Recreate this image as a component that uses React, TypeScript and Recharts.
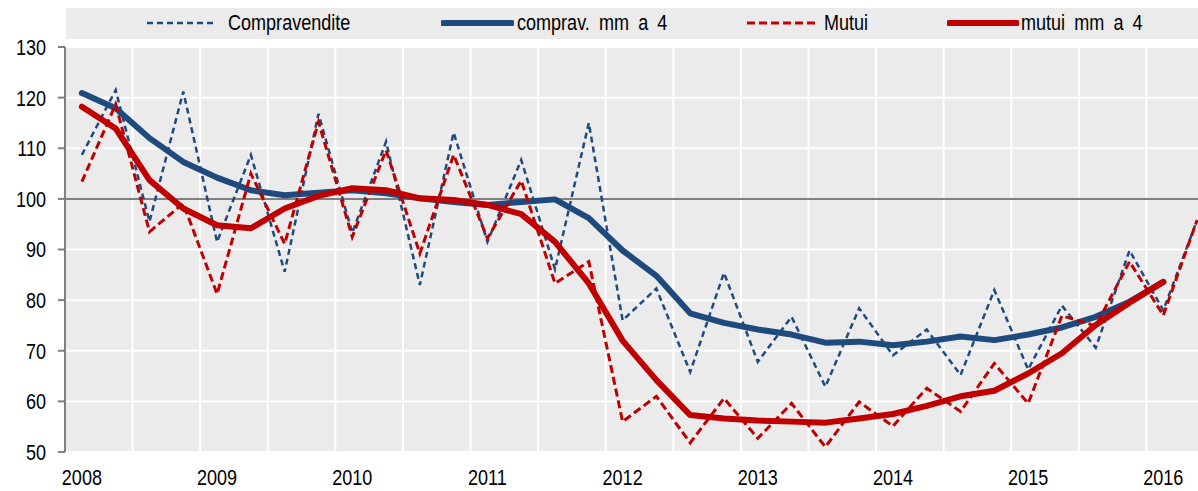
import React from 'react';
import { LineChart, Line, XAxis, YAxis, CartesianGrid, ReferenceLine } from 'recharts';

const quarters = [
  '2008-1', '2008-2', '2008-3', '2008-4',
  '2009-1', '2009-2', '2009-3', '2009-4',
  '2010-1', '2010-2', '2010-3', '2010-4',
  '2011-1', '2011-2', '2011-3', '2011-4',
  '2012-1', '2012-2', '2012-3', '2012-4',
  '2013-1', '2013-2', '2013-3', '2013-4',
  '2014-1', '2014-2', '2014-3', '2014-4',
  '2015-1', '2015-2', '2015-3', '2015-4',
  '2016-1', '2016-2',
];

const compravendite = [108.7, 121.5, 95.5, 121.2, 91.5, 108.7, 85.6, 116.8, 93.3, 111.3, 83.0, 113.1, 91.5, 107.7, 86.1, 115.0, 76.0, 82.3, 65.8, 85.4, 67.8, 76.7, 62.9, 78.4, 69.1, 74.2, 65.2, 82.0, 66.3, 78.9, 70.6, 89.8, 78.0, 95.8];
const compravMM = [120.9, 117.9, 112.0, 107.3, 104.2, 101.7, 100.7, 101.2, 101.7, 101.1, 100.1, 99.4, 98.8, 99.4, 99.9, 96.2, 89.8, 84.8, 77.4, 75.5, 74.2, 73.2, 71.6, 71.8, 71.1, 71.8, 72.8, 72.1, 73.2, 74.6, 76.7, 79.7, 83.6, null];
const mutui = [103.4, 118.7, 93.5, 99.1, 81.2, 105.0, 91.1, 115.2, 92.5, 109.6, 89.2, 108.7, 92.2, 103.6, 83.3, 87.6, 56.0, 61.0, 51.8, 60.6, 52.7, 59.6, 51.0, 59.9, 55.1, 62.6, 58.0, 67.5, 59.6, 76.9, 74.9, 87.6, 77.0, 95.8];
const mutuiMM = [118.2, 113.9, 103.7, 98.1, 94.8, 94.2, 98.1, 100.6, 102.1, 101.7, 100.1, 99.8, 98.8, 97.0, 91.5, 83.3, 72.0, 64.2, 57.3, 56.6, 56.2, 56.0, 55.8, 56.6, 57.5, 59.1, 61.0, 62.1, 65.5, 69.5, 75.1, 79.5, 83.6, null];

const yTicks = [50, 60, 70, 80, 90, 100, 110, 120, 130];

const seriesLabels = ['Compravendite', 'comprav. mm a 4', 'Mutui', 'mutui mm a 4'];

const data = quarters.map((q, i) => ({
  q,
  compravendite: compravendite[i],
  compravMM: compravMM[i],
  mutui: mutui[i],
  mutuiMM: mutuiMM[i],
}));

const BLUE = '#1F4A7E';
const RED = '#C00000';
const FONT = '"Liberation Sans", Arial, sans-serif';
const NARROW = 0.82;
const BLUE_DASH = '6 4';
const RED_DASH = '8 4';

const LEGEND_LEFT = 66;
const legendItems = [
  { label: seriesLabels[0], color: BLUE, width: 2.5, dash: BLUE_DASH, x1: 147, x2: 214, textLeft: 228 },
  { label: seriesLabels[1], color: BLUE, width: 6, dash: undefined, x1: 443, x2: 512, textLeft: 517 },
  { label: seriesLabels[2], color: RED, width: 3, dash: RED_DASH, x1: 747, x2: 816, textLeft: 824 },
  { label: seriesLabels[3], color: RED, width: 6, dash: undefined, x1: 949, x2: 1017, textLeft: 1021 },
];

function LegendBox() {
  return (
    <div
      style={{
        position: 'absolute',
        left: LEGEND_LEFT,
        top: 8,
        width: 1198 - LEGEND_LEFT,
        height: 31,
        background: '#EBEBEB',
        fontFamily: FONT,
        fontSize: 22,
        color: '#000',
      }}
    >
      {legendItems.map((it) => (
        <React.Fragment key={it.label}>
          <svg
            width={it.x2 - it.x1 + 4}
            height={10}
            style={{ position: 'absolute', left: it.x1 - LEGEND_LEFT - 2, top: 10 }}
          >
            <line
              x1={2}
              y1={5}
              x2={it.x2 - it.x1 + 2}
              y2={5}
              stroke={it.color}
              strokeWidth={it.width}
              strokeDasharray={it.dash}
              strokeLinecap={it.dash ? 'butt' : 'round'}
            />
          </svg>
          <span
            style={{
              position: 'absolute',
              left: it.textLeft - LEGEND_LEFT,
              top: 2,
              lineHeight: '26px',
              whiteSpace: 'nowrap',
              wordSpacing: '5px',
              transform: `scaleX(${NARROW})`,
              transformOrigin: 'left center',
            }}
          >
            {it.label}
          </span>
        </React.Fragment>
      ))}
    </div>
  );
}

function YTick(props: any) {
  const { x, y, payload } = props;
  return (
    <text
      transform={`translate(${x},${y}) scale(${NARROW},1)`}
      textAnchor="end"
      dy="0.36em"
      fill="#000"
      fontSize={22}
      fontFamily={FONT}
    >
      {payload.value}
    </text>
  );
}

function XTick(props: any) {
  const { x, y, payload } = props;
  return (
    <text
      transform={`translate(${x},${y}) scale(${NARROW},1)`}
      textAnchor="middle"
      dy="0.71em"
      fill="#000"
      fontSize={22}
      fontFamily={FONT}
    >
      {String(payload.value).slice(0, 4)}
    </text>
  );
}

export default function App() {
  const vGen = (props: any) => {
    const off = props.offset;
    const band = off.width / quarters.length;
    const res: number[] = [];
    for (let k = 2; k <= quarters.length; k += 2) res.push(off.left + k * band);
    return res;
  };
  const band = (1214 - 65) / quarters.length;
  return (
    <div
      style={{
        position: 'fixed',
        left: 0,
        top: 0,
        width: 1198,
        height: 491,
        overflow: 'hidden',
        background: '#fff',
      }}
    >
      <LegendBox />
      <LineChart
        width={1214}
        height={491}
        data={data}
        margin={{ top: 47, right: 0, bottom: 0, left: 0 }}
        style={{ position: 'absolute', left: 0, top: 0 }}
      >
        <CartesianGrid
          fill="#EBEBEB"
          stroke="#FFFFFF"
          strokeWidth={2}
          verticalCoordinatesGenerator={vGen}
        />
        <XAxis
          dataKey="q"
          scale="point"
          padding={{ left: band / 2, right: band / 2 }}
          interval={3}
          axisLine={false}
          tickLine={false}
          tickSize={0}
          tickMargin={17}
          height={39}
          tick={<XTick />}
        />
        <YAxis
          domain={[50, 130]}
          ticks={yTicks}
          interval={0}
          width={65}
          axisLine={{ stroke: '#808080', strokeWidth: 2 }}
          tickLine={{ stroke: '#808080', strokeWidth: 2 }}
          tickSize={7}
          tickMargin={12}
          tick={<YTick />}
        />
        <ReferenceLine y={100} stroke="#808080" strokeWidth={2} />
        <Line
          dataKey="compravendite"
          stroke={BLUE}
          strokeWidth={2.5}
          strokeDasharray={BLUE_DASH}
          dot={false}
          isAnimationActive={false}
        />
        <Line
          dataKey="compravMM"
          stroke={BLUE}
          strokeWidth={6}
          dot={false}
          strokeLinecap="round"
          strokeLinejoin="round"
          isAnimationActive={false}
        />
        <Line
          dataKey="mutui"
          stroke={RED}
          strokeWidth={3}
          strokeDasharray={RED_DASH}
          dot={false}
          isAnimationActive={false}
        />
        <Line
          dataKey="mutuiMM"
          stroke={RED}
          strokeWidth={6}
          dot={false}
          strokeLinecap="round"
          strokeLinejoin="round"
          isAnimationActive={false}
        />
      </LineChart>
    </div>
  );
}
